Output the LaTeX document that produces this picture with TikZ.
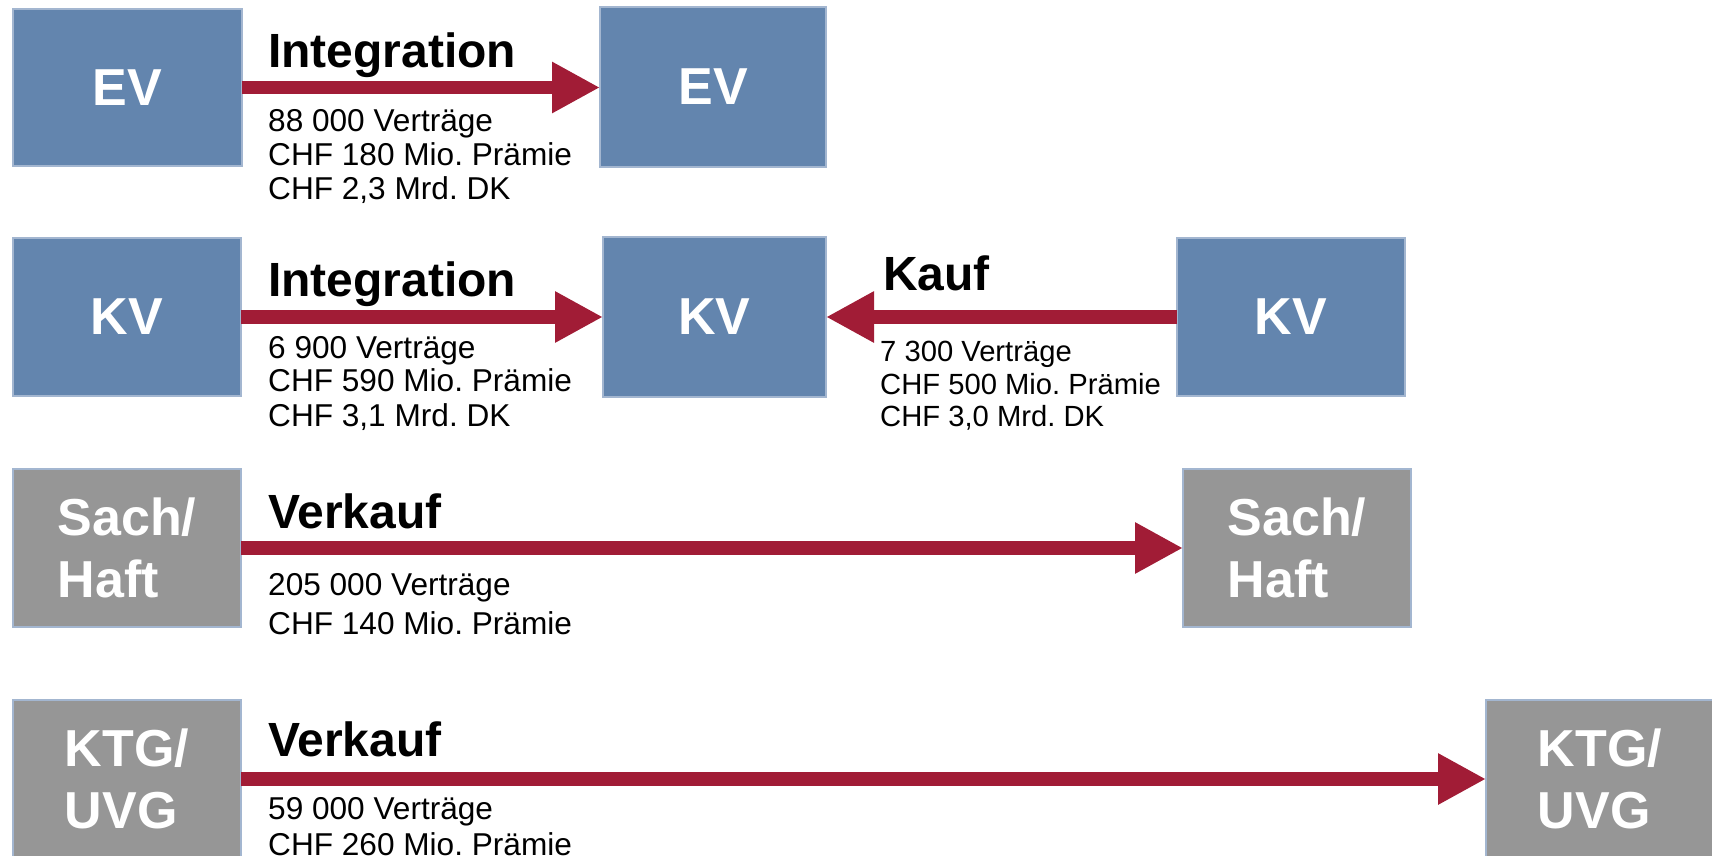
\documentclass[tikz,border=0pt]{standalone}
\usepackage{fontspec}
\setmainfont{Liberation Sans}
\usetikzlibrary{arrows.meta}
\frenchspacing
\definecolor{boxblue}{RGB}{99,133,174}
\definecolor{boxgray}{RGB}{150,150,150}
\definecolor{boxedge}{RGB}{163,182,208}
\definecolor{arrred}{RGB}{161,28,54}
\tikzset{
  unitbox/.style={draw=boxedge, line width=1.6pt, outer sep=0pt, inner sep=0pt,
    text=white, align=left, font=\fontsize{52}{61.6}\selectfont\bfseries},
  bluebox/.style={unitbox, fill=boxblue},
  graybox/.style={unitbox, fill=boxgray},
  flow/.style={draw=arrred, line width=13.3pt,
    -{Triangle[length=48pt,width=48pt,fill=arrred]}, shorten >=0pt},
  headlbl/.style={anchor=base west, inner sep=0pt, font=\fontsize{48}{56}\selectfont\bfseries},
  detail/.style={anchor=base west, inner sep=0pt, font=\fontsize{31.6}{34}\selectfont\frenchspacing},
  smalldetail/.style={detail, font=\fontsize{29.2}{32}\selectfont\frenchspacing}
}
\begin{document}
\begin{tikzpicture}[x=1pt,y=-1pt]
\useasboundingbox (0,0) rectangle (1712,856);
% row 1
\node[bluebox, minimum width=229pt, minimum height=157pt] (evL) at (127.3,87.5) {EV};
\node[bluebox, minimum width=226pt, minimum height=160pt] (evR) at (713,87) {EV};
\draw[flow] (evL.east) -- (evL.east -| evR.west);
\node[headlbl] (h1) at (268,67.7) {Integration};
\node[detail] (d11) at (268,131.7) {88 000 Verträge};
\node[detail] (d12) at (268,165.7) {CHF 180 Mio. Prämie};
\node[detail] (d13) at (268,199.3) {CHF 2,3 Mrd. DK};
% row 2
\node[bluebox, minimum width=228pt, minimum height=158pt] (kvL) at (127,317) {KV};
\node[bluebox, minimum width=223pt, minimum height=160pt] (kvM) at (714.5,317) {KV};
\node[bluebox, minimum width=228pt, minimum height=158pt] (kvR) at (1291,317) {KV};
\draw[flow] (kvL.east) -- (kvL.east -| kvM.west);
\draw[flow] (kvR.west) -- (kvR.west -| kvM.east);
\node[headlbl] (h2) at (268,296.7) {Integration};
\node[detail] (d21) at (268,358.3) {6 900 Verträge};
\node[detail] (d22) at (268,391.7) {CHF 590 Mio. Prämie};
\node[detail] (d23) at (268,426.7) {CHF 3,1 Mrd. DK};
\node[headlbl] (h2b) at (883,290) {Kauf};
\node[smalldetail] (d31) at (880,361) {7 300 Verträge};
\node[smalldetail] (d32) at (880,394) {CHF 500 Mio. Prämie};
\node[smalldetail] (d33) at (880,426) {CHF 3,0 Mrd. DK};
% row 3
\node[graybox, minimum width=228pt, minimum height=158pt] (shL) at (127,548) {Sach/\\Haft};
\node[graybox, minimum width=228pt, minimum height=158pt] (shR) at (1297,548) {Sach/\\Haft};
\draw[flow] (shL.east) -- (shR.west);
\node[headlbl] (h3) at (268,528) {Verkauf};
\node[detail] (d41) at (268,595.7) {205 000 Verträge};
\node[detail] (d42) at (268,634) {CHF 140 Mio. Prämie};
% row 4
\node[graybox, minimum width=228pt, minimum height=158pt] (kuL) at (127,779) {KTG/\\UVG};
\node[graybox, minimum width=228pt, minimum height=158pt] (kuR) at (1600,779) {KTG/\\UVG};
\draw[flow] (kuL.east) -- (kuR.west);
\node[headlbl] (h4) at (268,756) {Verkauf};
\node[detail] (d51) at (268,819) {59 000 Verträge};
\node[detail] (d52) at (268,855) {CHF 260 Mio. Prämie};
\end{tikzpicture}
\end{document}
